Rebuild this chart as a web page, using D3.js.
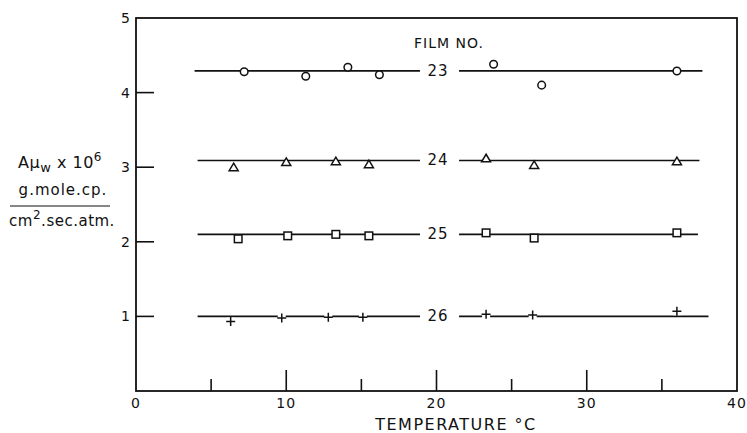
<!DOCTYPE html>
<html>
<head>
<meta charset="utf-8">
<script src="https://cdn.jsdelivr.net/npm/d3@7"></script>
<style>
  body { margin: 0; background: #fff; }
  text { font-family: "DejaVu Sans", sans-serif; fill: #111; }
</style>
</head>
<body>
<svg id="chart"></svg>
<script>
// values
var films = ["23", "24", "25", "26"];
var shapes = ["circle", "triangle", "square", "plus"];
var levels = [4.29, 3.09, 2.10, 1.00];
var lineStart = [3.9, 4.1, 4.1, 4.1];
var lineEnd = [37.7, 37.5, 37.4, 38.1];
var gapFrom = 18.9, gapTo = 21.5, labelAt = 20.1;

var temps = [
  [7.2, 11.3, 14.1, 16.2, 23.8, 27.0, 36.0],
  [6.5, 10.0, 13.3, 15.5, 23.3, 26.5, 36.0],
  [6.8, 10.1, 13.3, 15.5, 23.3, 26.5, 36.0],
  [6.3, 9.7, 12.8, 15.1, 23.3, 26.4, 36.0]
];
var vals = [
  [4.28, 4.22, 4.34, 4.24, 4.38, 4.10, 4.29],
  [3.00, 3.07, 3.08, 3.04, 3.12, 3.03, 3.08],
  [2.04, 2.08, 2.10, 2.08, 2.12, 2.05, 2.12],
  [0.93, 0.98, 0.99, 0.99, 1.03, 1.02, 1.07]
];

var xTicks = [0, 10, 20, 30, 40];
var xMinor = [5, 15, 25, 35];
var yTicks = [0, 1, 2, 3, 4, 5];

var width = 747, height = 433;
var plotL = 136, plotR = 737, plotT = 18, plotB = 391;

var x = d3.scaleLinear().domain([0, 40]).range([plotL, plotR]);
var y = d3.scaleLinear().domain([0, 5]).range([plotB, plotT]);

var svg = d3.select("#chart")
    .attr("width", width)
    .attr("height", height);

// frame
svg.append("rect")
    .attr("x", plotL)
    .attr("y", plotT)
    .attr("width", plotR - plotL)
    .attr("height", plotB - plotT)
    .attr("fill", "none")
    .attr("stroke", "#111")
    .attr("stroke-width", 1.8);

// y ticks (inward) and labels
svg.selectAll(".ytick")
    .data(yTicks.filter(function(d) { return d > 0 && d < 5; }))
    .enter().append("line")
    .attr("x1", plotL).attr("x2", plotL + 18)
    .attr("y1", function(d) { return y(d); })
    .attr("y2", function(d) { return y(d); })
    .attr("stroke", "#111").attr("stroke-width", 1.6);

svg.selectAll(".ylab")
    .data(yTicks.filter(function(d) { return d > 0; }))
    .enter().append("text")
    .attr("x", plotL - 6)
    .attr("y", function(d) { return y(d) + 5; })
    .attr("text-anchor", "end")
    .style("font-size", "14px")
    .text(function(d) { return d; });

// x ticks (inward)
svg.selectAll(".xmaj")
    .data(xTicks.filter(function(d) { return d > 0 && d < 40; }))
    .enter().append("line")
    .attr("x1", function(d) { return x(d); })
    .attr("x2", function(d) { return x(d); })
    .attr("y1", plotB).attr("y2", plotB - 21)
    .attr("stroke", "#111").attr("stroke-width", 1.6);

svg.selectAll(".xmin")
    .data(xMinor)
    .enter().append("line")
    .attr("x1", function(d) { return x(d); })
    .attr("x2", function(d) { return x(d); })
    .attr("y1", plotB).attr("y2", plotB - 12)
    .attr("stroke", "#111").attr("stroke-width", 1.6);

svg.selectAll(".xlab")
    .data(xTicks)
    .enter().append("text")
    .attr("x", function(d) { return x(d); })
    .attr("y", plotB + 17)
    .attr("text-anchor", "middle")
    .style("font-size", "14px")
    .style("letter-spacing", "1px")
    .text(function(d) { return d; });

svg.append("text")
    .attr("x", 456)
    .attr("y", 430)
    .attr("text-anchor", "middle")
    .style("font-size", "16px")
    .style("letter-spacing", "1.5px")
    .text("TEMPERATURE \u00B0C");

// y axis label
var yl = svg.append("g").style("font-size", "15px");
var t1 = yl.append("text").attr("x", 60).attr("y", 168).attr("text-anchor", "middle")
    .style("font-size", "16px").style("letter-spacing", "0.5px");
t1.append("tspan").text("A\u03BC");
t1.append("tspan").attr("dy", 4).style("font-size", "13px").text("w");
t1.append("tspan").attr("dy", -4).text(" x 10");
t1.append("tspan").attr("dy", -7).style("font-size", "12px").text("6");
yl.append("text").attr("x", 63).attr("y", 195).attr("text-anchor", "middle")
    .style("letter-spacing", "1px").text("g.mole.cp.");
yl.append("line").attr("x1", 10).attr("x2", 110).attr("y1", 206).attr("y2", 206)
    .attr("stroke", "#111").attr("stroke-width", 1.2);
var t3 = yl.append("text").attr("x", 62).attr("y", 226).attr("text-anchor", "middle")
    .style("letter-spacing", "0.5px");
t3.append("tspan").text("cm");
t3.append("tspan").attr("dy", -7).style("font-size", "12px").text("2");
t3.append("tspan").attr("dy", 7).text(".sec.atm.");

// film number heading
svg.append("text")
    .attr("x", 449)
    .attr("y", 48)
    .attr("text-anchor", "middle")
    .style("font-size", "14px")
    .style("letter-spacing", "1px")
    .text("FILM NO.");

// reference lines with label gap
films.forEach(function(f, i) {
  var g = svg.append("g");
  [[lineStart[i], gapFrom], [gapTo, lineEnd[i]]].forEach(function(seg) {
    g.append("line")
        .attr("x1", x(seg[0])).attr("x2", x(seg[1]))
        .attr("y1", y(levels[i])).attr("y2", y(levels[i]))
        .attr("stroke", "#111").attr("stroke-width", 1.7);
  });
  g.append("text")
      .attr("x", x(labelAt))
      .attr("y", y(levels[i]) + 5)
      .attr("text-anchor", "middle")
      .style("font-size", "15px")
      .style("letter-spacing", "1px")
      .text(f);

  var pts = temps[i].map(function(t, j) { return [t, vals[i][j]]; });
  var m = g.selectAll(".pt").data(pts).enter().append("g")
      .attr("transform", function(d) { return "translate(" + x(d[0]) + "," + y(d[1]) + ")"; });
  var s = shapes[i];
  if (s === "circle") {
    m.append("circle").attr("r", 3.8)
        .attr("fill", "#fff").attr("stroke", "#111").attr("stroke-width", 1.5);
  } else if (s === "triangle") {
    m.append("path").attr("d", "M0,-4L4.5,3.5L-4.5,3.5Z")
        .attr("fill", "#fff").attr("stroke", "#111").attr("stroke-width", 1.5);
  } else if (s === "square") {
    m.append("rect").attr("x", -3.8).attr("y", -3.8).attr("width", 7.6).attr("height", 7.6)
        .attr("fill", "#fff").attr("stroke", "#111").attr("stroke-width", 1.5);
  } else {
    m.append("rect").attr("x", -4).attr("y", -4).attr("width", 8).attr("height", 8)
        .attr("fill", "#fff");
    m.append("path").attr("d", "M-4.5,0H4.5M0,-4.5V4.5")
        .attr("stroke", "#111").attr("stroke-width", 1.5);
  }
});
</script>
</body>
</html>
